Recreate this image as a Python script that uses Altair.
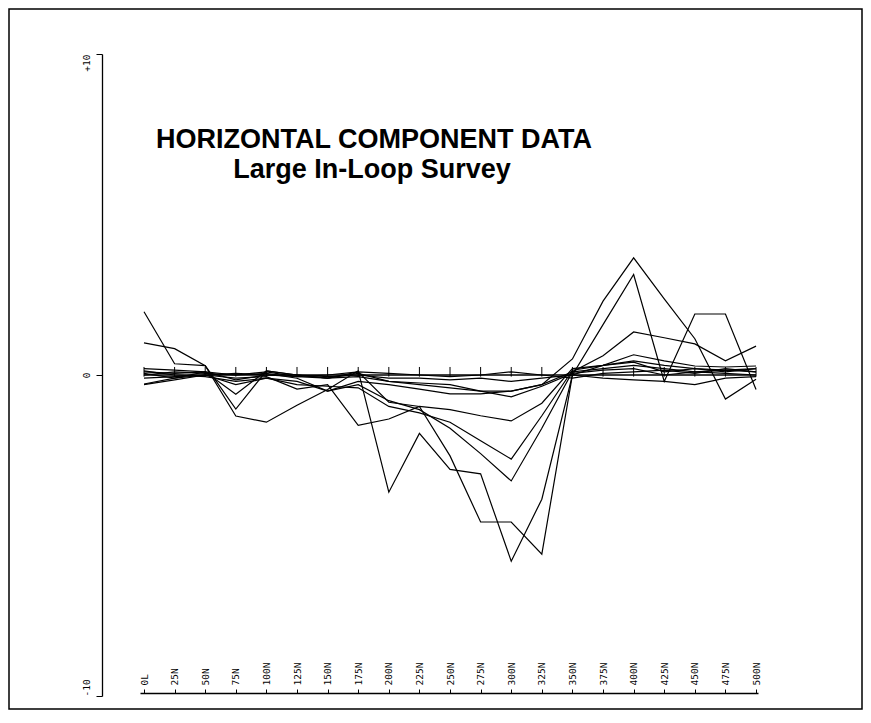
import altair as alt
import pandas as pd

# ---------------- data ----------------
stations = [0, 25, 50, 75, 100, 125, 150, 175, 200, 225, 250,
            275, 300, 325, 350, 375, 400, 425, 450, 475, 500]
station_labels = ["0L", "25N", "50N", "75N", "100N", "125N", "150N", "175N",
                  "200N", "225N", "250N", "275N", "300N", "325N", "350N",
                  "375N", "400N", "425N", "450N", "475N", "500N"]

y_ticks = [-10, 0, 10]
y_tick_labels = ["-10", "0", "+10"]

s1 = [1.97, 0.35, 0.29, -1.06, 0.13, 0.0, -0.1, 0.05, -0.2, -0.3, -0.4,
      -0.5, -0.5, -0.3, 0.5, 2.3, 3.65, 2.37, 1.13, -0.75, -0.13]
s2 = [1.0, 0.82, 0.29, -1.28, -1.47, -0.94, -0.45, 0.13, -3.65, -1.82, -2.94,
      -3.08, -5.8, -3.87, 0.0, 1.57, 3.13, -0.2, 1.9, 1.9, -0.45]
s3 = [0.1, 0.05, 0.1, -0.6, 0.13, 0.0, -0.1, 0.1, -0.85, -0.98, -2.52,
      -4.58, -4.58, -5.58, 0.0, 0.3, 0.4, 0.1, 0.2, 0.1, 0.2]
s4 = [-0.3, -0.15, 0.0, -0.3, -0.1, -0.2, -0.5, -0.3, -0.8, -1.08, -1.66,
      -2.45, -3.3, -1.66, 0.1, 0.6, 1.34, 1.16, 0.97, 0.44, 0.9]
s5 = [0.13, 0.0, -0.05, -0.2, -0.1, -0.3, -0.35, -0.4, -0.98, -1.18, -1.47,
      -2.05, -2.62, -1.27, 0.15, 0.3, 0.63, 0.44, 0.28, 0.25, 0.28]
s6 = [-0.28, -0.1, 0.0, -0.1, -0.05, -0.44, -0.3, -1.57, -1.37, -0.98, -1.08,
      -1.27, -1.43, -0.88, 0.2, 0.3, 0.44, 0.3, 0.2, 0.15, 0.2]
s7 = [0.0, 0.1, 0.05, 0.0, 0.05, -0.1, -0.5, -0.2, -0.3, -0.44, -0.59,
      -0.59, -0.5, -0.3, 0.1, 0.2, 0.3, 0.2, 0.1, 0.15, 0.1]
s8 = [0.2, 0.15, 0.1, -0.15, 0.0, -0.05, -0.1, -0.05, -0.2, -0.25, -0.3,
      -0.5, -0.68, -0.35, 0.05, 0.15, 0.2, 0.0, 0.1, 0.05, 0.0]
s9 = [-0.1, -0.05, 0.0, 0.05, 0.0, 0.0, -0.05, 0.0, -0.1, -0.1, -0.15,
      -0.1, -0.2, -0.1, 0.0, -0.1, -0.15, -0.2, -0.3, -0.1, -0.05]
s10 = [0.05, -0.1, 0.1, 0.0, 0.1, -0.05, 0.0, 0.1, 0.05, 0.0, -0.05,
       0.0, 0.1, 0.0, -0.1, 0.05, 0.1, 0.15, 0.05, 0.2, 0.1]

title_lines = ["HORIZONTAL COMPONENT DATA", "Large In-Loop Survey"]

# ---------------- tables ----------------
series = {"S1": s1, "S2": s2, "S3": s3, "S4": s4, "S5": s5,
          "S6": s6, "S7": s7, "S8": s8, "S9": s9, "S10": s10}
rows = []
for name, vals in series.items():
    for st, v in zip(stations, vals):
        rows.append({"series": name, "station": st, "value": v})
df = pd.DataFrame(rows)
st_df = pd.DataFrame({"station": stations})
zero_df = pd.DataFrame({"x0": [stations[0]], "x1": [stations[-1]]})

x_label_expr = " : ".join(
    f"datum.value == {s} ? '{l}'" for s, l in zip(stations, station_labels)) + " : ''"
y_label_expr = " : ".join(
    f"datum.value == {s} ? '{l}'" for s, l in zip(y_ticks, y_tick_labels)) + " : ''"

x_scale = alt.Scale(domain=[-3.27, 501.6], nice=False, zero=False)
y_scale = alt.Scale(domain=[-10, 10], nice=False, zero=False)

x_axis = alt.Axis(orient="top", offset=-639, values=stations, labelExpr=x_label_expr,
                  labelAngle=-90, labelAlign="left", labelBaseline="middle",
                  labelPadding=4, tickSize=4, tickColor="black", domainColor="black",
                  domainWidth=1.3, labelColor="black", labelFont="DejaVu Sans Mono",
                  labelFontSize=9.5, labelFlush=False, labelOverlap=False,
                  grid=False, title=None)
y_axis = alt.Axis(orient="left", offset=38, values=y_ticks, labelExpr=y_label_expr,
                  labelAngle=-90, labelBaseline="bottom",
                  labelAlign={"condition": [{"test": "datum.value > 0", "value": "right"},
                                            {"test": "datum.value < 0", "value": "left"}],
                              "value": "center"},
                  tickSize=6, labelPadding=5, tickColor="black",
                  domainColor="black", domainWidth=1.3, labelColor="black",
                  labelFont="DejaVu Sans Mono", labelFontSize=9.5, labelFlush=False,
                  grid=False, title=None)

X = lambda f: alt.X(f, scale=x_scale, axis=x_axis)
Y = lambda f: alt.Y(f, scale=y_scale, axis=y_axis)

lines = alt.Chart(df).mark_line(color="black", strokeWidth=1.2).encode(
    x=X("station:Q"), y=Y("value:Q"), detail="series:N")

zero_line = alt.Chart(zero_df).mark_rule(color="black", strokeWidth=1.3).encode(
    x=X("x0:Q"), x2="x1:Q", y=alt.datum(0))

zero_ticks = alt.Chart(st_df).mark_rule(color="black", strokeWidth=1).encode(
    x=X("station:Q"), y=alt.datum(-0.05), y2=alt.datum(0.25))

title_df = pd.DataFrame({"text": title_lines})
t1 = alt.Chart(title_df.iloc[[0]]).mark_text(
    font="Liberation Sans", fontWeight="bold", fontSize=27, align="center",
    baseline="alphabetic", color="black").encode(
    x=alt.value(234), y=alt.value(94), text="text:N")
t2 = alt.Chart(title_df.iloc[[1]]).mark_text(
    font="Liberation Sans", fontWeight="bold", fontSize=27, align="center",
    baseline="alphabetic", color="black").encode(
    x=alt.value(232), y=alt.value(124), text="text:N")

frame = alt.Chart(pd.DataFrame({"a": [0]})).mark_rect(
    fillOpacity=0, stroke="black", strokeWidth=1.5).encode(
    x=alt.value(-131), x2=alt.value(722), y=alt.value(-45), y2=alt.value(655))

chart = alt.layer(frame, zero_line, zero_ticks, lines, t1, t2).properties(
    width=618, height=642,
    autosize=alt.AutoSizeParams(type="none"),
    padding={"left": 132, "top": 46, "right": 105, "bottom": 15},
    background="white",
).configure_view(strokeWidth=0)

chart.save("out.html", embed_options={"renderer": "svg", "actions": False})
